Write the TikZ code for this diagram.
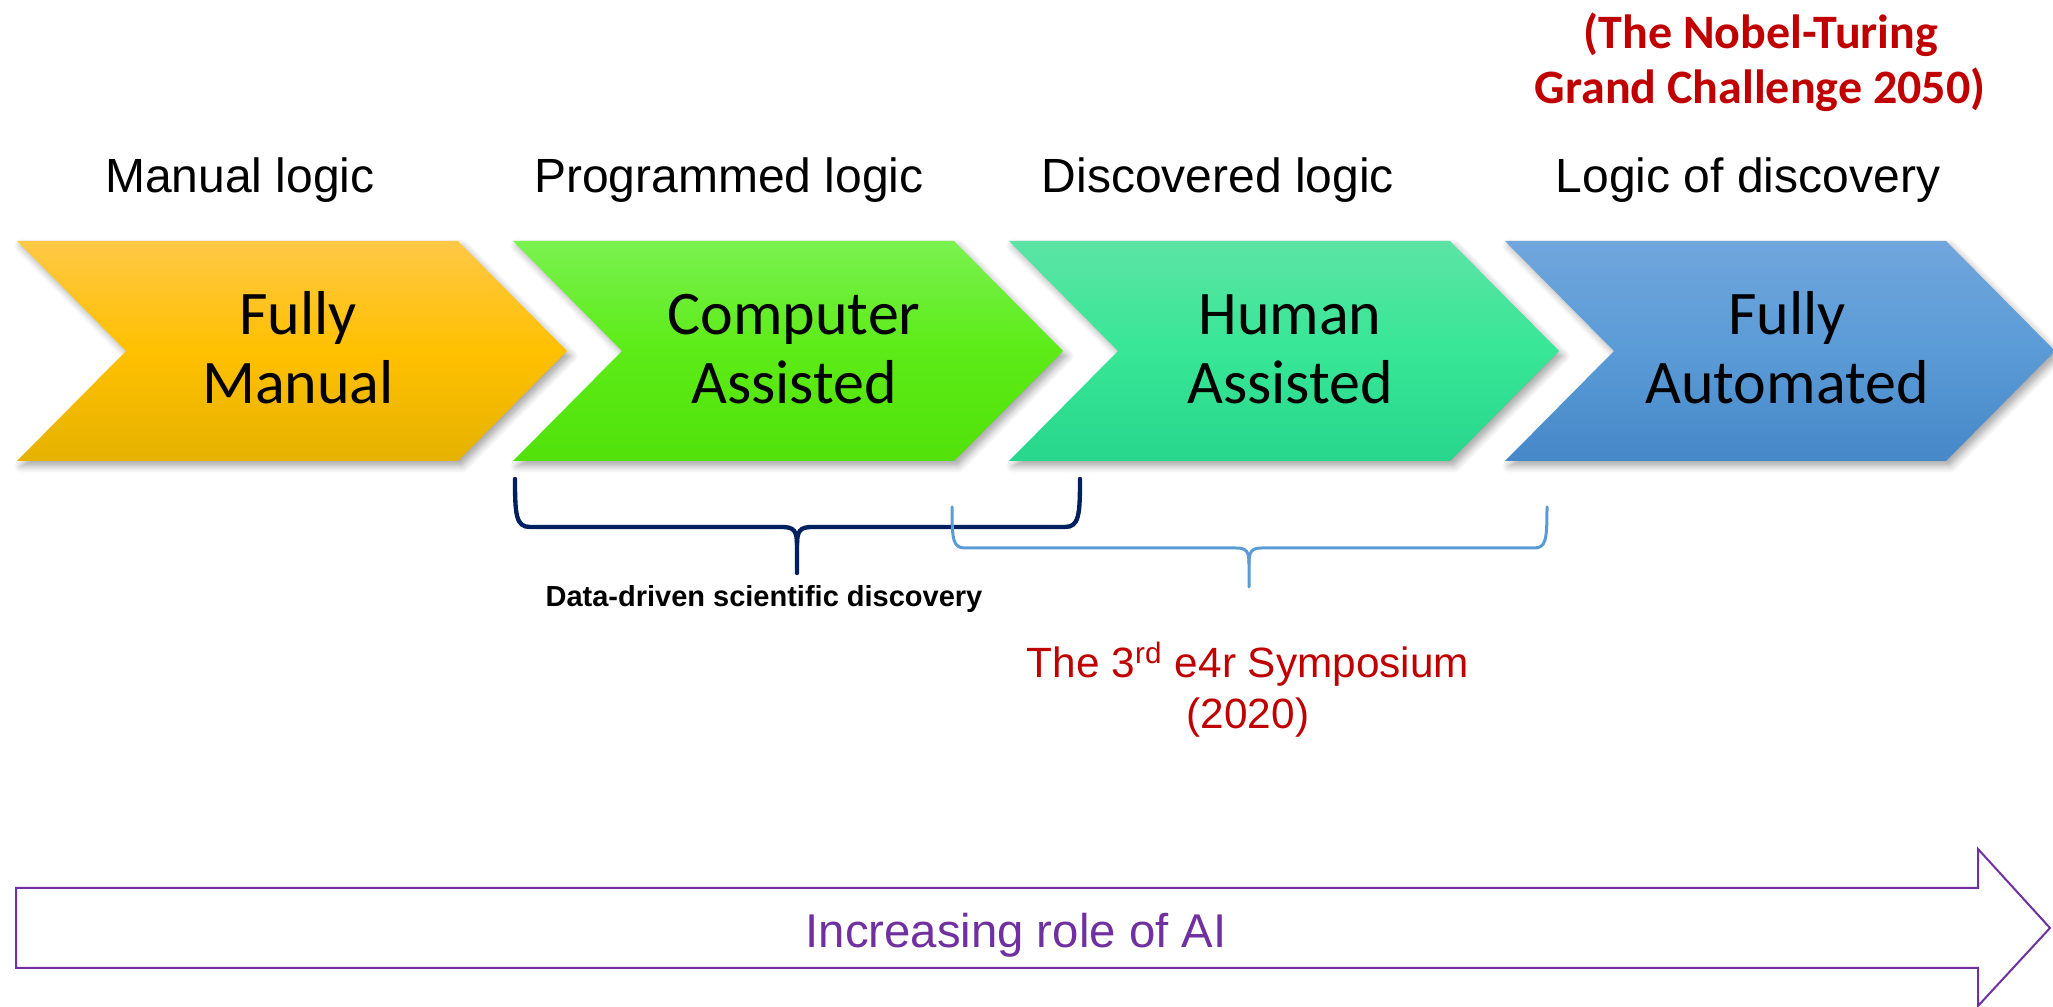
\documentclass[tikz,border=0pt]{standalone}
\usepackage{fontspec}
\setmainfont{Liberation Sans}
\newfontfamily\calibri{Carlito}
\usetikzlibrary{shadows.blur}

\definecolor{ylwTop}{RGB}{255,200,70}
\definecolor{ylwMid}{RGB}{255,192,0}
\definecolor{ylwBot}{RGB}{229,178,0}
\definecolor{grnTop}{RGB}{122,242,80}
\definecolor{grnMid}{RGB}{92,235,22}
\definecolor{grnBot}{RGB}{82,226,10}
\definecolor{tealTop}{RGB}{92,228,165}
\definecolor{tealMid}{RGB}{55,230,150}
\definecolor{tealBot}{RGB}{40,214,140}
\definecolor{bluTop}{RGB}{112,166,220}
\definecolor{bluMid}{RGB}{90,155,215}
\definecolor{bluBot}{RGB}{70,136,200}
\definecolor{navy}{RGB}{0,32,96}
\definecolor{skyblue}{RGB}{91,155,213}
\definecolor{darkred}{RGB}{192,0,0}
\definecolor{purple}{RGB}{112,48,160}

% chevron outline: left x given, 441 wide body, 109 deep point
\newcommand\chevronat[1]{(#1,241) -- ++(441,0) -- ++(109,110) -- ++(-109,110) -- ++(-441,0) -- ++(109,-110) -- cycle}

\begin{document}
\begin{tikzpicture}[x=0.3pt,y=-0.3pt,
  chev/.style={blur shadow={shadow xshift=1.2pt,shadow yshift=-1.5pt,shadow blur steps=6,shadow opacity=35}},
  chevtext/.style={font=\calibri\fontsize{18.6}{20}\selectfont,anchor=base,inner sep=0pt},
  header/.style={font=\fontsize{14.4}{16}\selectfont,anchor=base,inner sep=0pt},
  goal/.style={font=\calibri\bfseries\fontsize{14.4}{17}\selectfont,text=darkred,anchor=base,inner sep=0pt},
  navybrace/.style={draw=navy,line width=1.3pt,line cap=round},
  skybrace/.style={draw=skyblue,line width=0.9pt,line cap=round},
  bracenote/.style={font=\bfseries\fontsize{8.7}{10}\selectfont,anchor=base,inner sep=0pt},
  symp/.style={font=\fontsize{12.7}{15}\selectfont,text=darkred,anchor=base,inner sep=0pt},
  airole/.style={font=\fontsize{14.2}{16}\selectfont,text=purple,anchor=base,inner sep=0pt}]
\useasboundingbox (0,0) rectangle (2053,1007);

% four stage chevrons
\path[chev,top color=ylwTop,bottom color=ylwBot,middle color=ylwMid] \chevronat{17};
\path[chev,top color=grnTop,bottom color=grnBot,middle color=grnMid] \chevronat{513};
\path[chev,top color=tealTop,bottom color=tealBot,middle color=tealMid] \chevronat{1009};
\path[chev,top color=bluTop,bottom color=bluBot,middle color=bluMid] \chevronat{1505};

\node[chevtext] (c1a) at (298,335) {Fully};
\node[chevtext] (c1b) at (298,404) {Manual};
\node[chevtext] (c2a) at (794,335) {Computer};
\node[chevtext] (c2b) at (794,404) {Assisted};
\node[chevtext] (c3a) at (1290,335) {Human};
\node[chevtext] (c3b) at (1290,404) {Assisted};
\node[chevtext] (c4a) at (1787,335) {Fully};
\node[chevtext] (c4b) at (1787,404) {Automated};

% headings above the chevrons
\node[header] (h1) at (240,193) {Manual logic};
\node[header] (h2) at (729,193) {Programmed logic};
\node[header] (h3) at (1218,193) {Discovered logic};
\node[header] (h4) at (1748,193) {Logic of discovery};

\node[goal] (g1) at (1761,49) {(The Nobel-Turing};
\node[goal] (g2) at (1760,104) {Grand Challenge 2050)};

% braces under the chevrons
\draw[navybrace] (515,479) .. controls (515,515) and (516,527) .. (530,527) -- (782,527)
  .. controls (794,527) and (797,531) .. (797,545) -- (797,573);
\draw[navybrace] (1080,479) .. controls (1080,515) and (1079,527) .. (1065,527) -- (812,527)
  .. controls (800,527) and (797,531) .. (797,545);
\draw[skybrace] (952,507) .. controls (952,540) and (953,548) .. (965,548) -- (1236,548)
  .. controls (1247,548) and (1249,552) .. (1249,564) -- (1249,587);
\draw[skybrace] (1547,507) .. controls (1547,540) and (1546,548) .. (1534,548) -- (1262,548)
  .. controls (1251,548) and (1249,552) .. (1249,564);

\node[bracenote] (dd) at (764,607) {Data-driven scientific discovery};
\node[symp] (s1) at (1248,678) {The 3\textsuperscript{rd} e4r Symposium};
\node[symp] (s2) at (1248,729) {(2020)};

% arrow along the bottom
\draw[draw=purple,line width=0.6pt,fill=white] (16,888) -- (1978,888) -- (1978,849) -- (2050,928)
  -- (1978,1006) -- (1978,968) -- (16,968) -- cycle;
\node[airole] (ai) at (1016,948) {Increasing role of AI};
\end{tikzpicture}
\end{document}
